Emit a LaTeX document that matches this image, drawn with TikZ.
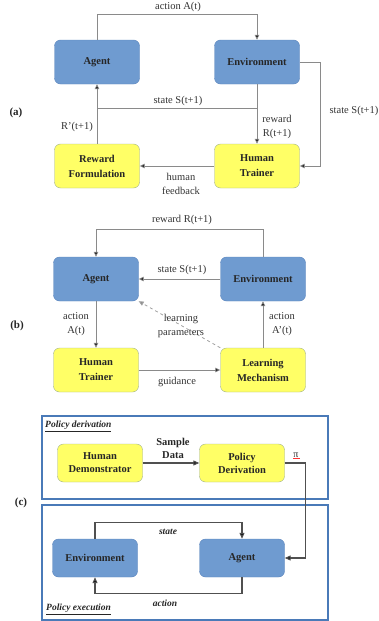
\documentclass[tikz,border=0pt]{standalone}
\usepackage{fontspec}
\setmainfont{Liberation Serif}
\usetikzlibrary{arrows.meta}
\definecolor{bluefill}{HTML}{6F9BD0}
\definecolor{blueline}{HTML}{5A84BC}
\definecolor{yelfill}{HTML}{FFFF66}
\definecolor{yelline}{HTML}{9FB08A}
\definecolor{conn}{HTML}{8A8A8A}
\definecolor{connc}{HTML}{505050}
\definecolor{framec}{HTML}{4A7AB8}
\definecolor{lbl}{HTML}{333333}
\begin{document}
\begin{tikzpicture}[x=1pt,y=-1pt,
  box/.style={rounded corners=6pt, minimum width=85pt, minimum height=44pt, inner sep=0pt,
    align=center, text=black!85, font=\fontsize{10.5}{15}\selectfont\bfseries},
  bluebox/.style={box, draw=blueline, fill=bluefill},
  yelbox/.style={box, draw=yelline, fill=yelfill},
  cbox/.style={minimum width=85pt, minimum height=38pt, font=\fontsize{10.5}{13}\selectfont\bfseries},
  arr/.style={draw=conn, line width=0.8pt, -{Triangle[length=5pt,width=4.5pt,fill=black]}},
  ln/.style={draw=conn, line width=0.8pt},
  arrc/.style={draw=connc, line width=1.1pt, -{Triangle[length=6pt,width=5pt,fill=black]}},
  lab/.style={text=lbl, font=\fontsize{10.5}{14.5}\selectfont, align=center, inner sep=0pt},
  panel/.style={font=\fontsize{11}{13}\selectfont\bfseries, text=black!85, inner sep=0pt},
  framebox/.style={draw=framec, line width=2pt},
  ttl/.style={font=\fontsize{9.5}{11}\selectfont\bfseries\itshape, text=black!85, inner sep=0pt, anchor=west}
]
\useasboundingbox (0,0) rectangle (379,621);

% ---------------- (a)
\node[bluebox] (ag) at (97,62) {Agent};
\node[bluebox] (env) at (257,62) {Environment};
\node[yelbox] (rf) at (97,166) {Reward\\Formulation};
\node[yelbox] (ht) at (257,166) {Human\\Trainer};
\node[panel] (pa) at (16,113) {(a)};

\draw[arr] (ag.north) -- ++(0,-25) -| (env.north);
\draw[arr] (env.south) -- ++(0,24) -| (ag.south);
\draw[arr] (env.south) -- (ht.north);
\draw[arr] (env.east) -- ++(21,0) |- (ht.east);
\draw[arr] (ht.west) -- (rf.east);
\draw[ln] (rf.north) -- ++(0,-36);

\node[lab] (la1) at (178,7) {action A(t)};
\node[lab] (la2) at (178,101) {state S(t+1)};
\node[lab] (la3) at (277,127) {reward\\R(t+1)};
\node[lab] (la4) at (354,111) {state S(t+1)};
\node[lab] (la5) at (181,184) {human\\feedback};
\node[lab] (la6) at (77,127) {R'(t+1)};

% ---------------- (b)
\node[bluebox] (agb) at (96,279) {Agent};
\node[bluebox] (envb) at (263,279) {Environment};
\node[yelbox] (htb) at (96,370) {Human\\Trainer};
\node[yelbox] (lmb) at (263,370) {Learning\\Mechanism};
\node[panel] (pb) at (17,326) {(b)};

\draw[arr] (envb.north) -- ++(0,-27) -| (agb.north);
\draw[arr] (envb.west) -- (agb.east);
\draw[arr] (agb.south) -- (htb.north);
\draw[arr] (lmb.north) -- (envb.south);
\draw[arr] (htb.east) -- (lmb.west);
\draw[draw=conn!80, line width=0.8pt, dashed, -{Triangle[length=5pt,width=4.5pt,fill=conn]}] (lmb.north west) -- (agb.south east);

\node[lab] (lb1) at (182,220) {reward R(t+1)};
\node[lab] (lb2) at (182,270) {state S(t+1)};
\node[lab] (lb3) at (76,324) {action\\A(t)};
\node[lab] (lb4) at (282,324) {action\\A'(t)};
\node[lab] (lb5) at (181,326) {learning\\parameters};
\node[lab] (lb6) at (177,382) {guidance};

% ---------------- (c)
\draw[framebox] (42,416) rectangle (328,499);
\draw[framebox] (42,505) rectangle (328,620);
\node[ttl] (t1) at (45,426) {\underline{Policy derivation}};
\node[ttl] (t2) at (46,609) {\underline{Policy execution}};
\node[panel] (pc) at (21,503) {(c)};

\node[yelbox, cbox] (hd) at (100,463) {Human\\Demonstrator};
\node[yelbox, cbox] (pd) at (242,463) {Policy\\Derivation};
\node[bluebox, cbox] (envc) at (95,558) {Environment};
\node[bluebox, cbox] (agc) at (242,558) {Agent};

\draw[arrc] (hd.east) -- (pd.west);
\draw[arrc] (pd.east) -- ++(21,0) |- (agc.east);
\draw[arrc] (envc.north) -- ++(0,-16) -| (agc.north);
\draw[arrc] (agc.south) -- ++(0,16) -| (envc.south);

\node[lab, text=black!85, font=\fontsize{10.5}{13}\selectfont\bfseries] (sd) at (173,448) {Sample\\Data};
\node[lab, text=black!85, font=\fontsize{10}{12}\selectfont] (pi) at (296,455) {π};
\draw[red!80, line width=0.6pt] (pi.south west) ++(0,1) -- ++(7,0);
\node[lab, text=black!85, font=\fontsize{9.5}{11}\selectfont\bfseries\itshape] (ls) at (168,532) {state};
\node[lab, text=black!85, font=\fontsize{9.5}{11}\selectfont\bfseries\itshape] (lac) at (165,603) {action};
\end{tikzpicture}
\end{document}
